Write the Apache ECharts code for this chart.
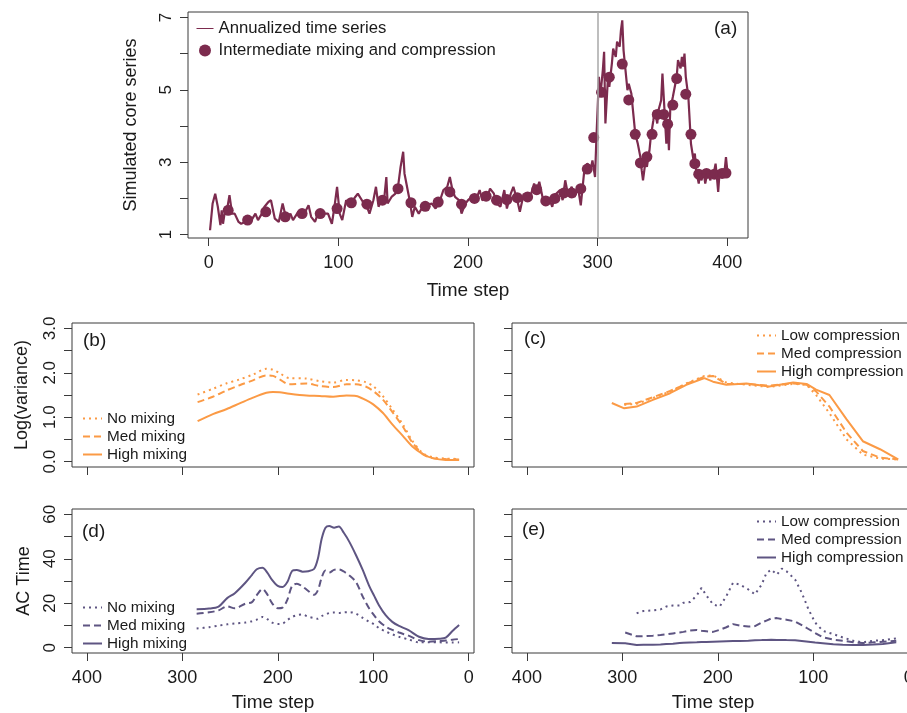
<!DOCTYPE html>
<html>
<head>
<meta charset="utf-8">
<script src="https://cdn.jsdelivr.net/npm/echarts@6/dist/echarts.min.js"></script>
<style>
html, body { margin: 0; padding: 0; background: #fff; }
#main { width: 907px; height: 713px; }
</style>
</head>
<body>
<div id="main"></div>
<script>
// panel (a): annualized series and the intermediate mixing/compression points
var annTime = [1,3,5,7,9,10,11,13,14,16,18,20,23,25,28,30,33,36,38,41,43,46,48,51,54,57,60,63,65,69,73,77,79,82,85,88,92,95,97,99,
  101,103,106,109,113,115,119,122,124,127,129,131,133,135,137,138,141,144,146,148,150,151,154,155,157,159,162,165,168,172,175,178,181,184,186,188,190,193,195,198,
  200,203,206,209,211,215,217,220,222,225,228,230,233,235,238,240,243,246,248,251,253,255,258,260,263,265,267,271,273,275,277,280,282,285,287,290,292,295,296,298,
  299,301,302,304,305,306,308,309,311,312,314,315,317,318,319,320,322,323,324,326,327,328,329,331,333,334,335,337,338,340,341,343,344,346,347,349,350,351,353,354,
  355,356,358,359,361,362,364,365,366,367,368,370,371,372,374,375,376,378,379,380,382,383,384,385,387,388,389,391,392,393,394,396,398,399,400];
var annValue = [1.12,1.86,2.13,1.77,1.26,1.67,1.30,1.77,1.67,2.09,1.58,1.58,1.35,1.30,1.35,1.49,1.40,1.58,1.40,1.58,1.77,1.90,1.95,1.44,1.35,1.86,1.40,1.58,1.40,1.63,1.53,1.81,1.49,1.35,1.67,1.58,1.58,1.30,1.77,2.32,
  1.58,1.40,1.95,1.81,2.04,2.13,1.90,1.77,1.58,1.95,2.32,1.77,1.95,1.86,2.59,1.86,2.04,2.13,2.32,2.87,3.29,2.69,2.13,1.95,1.49,1.77,1.58,1.77,1.81,1.86,1.72,1.90,2.23,2.32,2.59,2.23,2.04,1.95,1.58,1.86,
  1.95,2.04,1.95,2.23,1.95,2.04,2.27,2.13,1.86,1.77,2.23,1.72,2.13,2.32,1.95,1.63,2.13,1.95,2.04,2.41,2.23,2.46,1.95,1.86,1.95,1.77,2.09,2.23,1.95,2.50,2.13,2.32,2.04,2.27,1.81,2.87,2.96,2.87,3.05,2.59,
  3.61,5.36,4.80,5.54,6.05,4.07,5.36,5.08,5.73,6.14,5.91,6.33,6.19,6.65,6.92,6.09,5.36,4.99,5.17,4.90,4.53,4.16,3.79,3.51,3.14,2.78,2.50,3.05,2.87,3.33,3.70,4.16,4.44,4.07,4.44,4.71,5.45,4.80,3.51,4.16,
  3.33,4.44,4.80,4.99,5.36,5.82,5.59,5.91,5.64,6.00,5.36,4.80,4.16,3.51,3.05,3.24,2.78,2.41,2.69,2.50,2.69,2.41,2.59,2.69,2.50,2.78,2.59,2.96,2.59,2.18,2.69,2.59,2.78,3.14,2.78];
var dotTime = [15,30,44,59,72,86,99,110,122,134,146,156,167,177,186,195,205,214,222,230,238,246,253,260,267,274,280,287,292,297,
  303,309,319,324,329,333,338,342,346,351,354,358,361,368,372,375,378,384,390,396,399];
var dotValue = [1.67,1.40,1.63,1.49,1.58,1.58,1.72,1.88,1.84,1.95,2.27,1.88,1.78,1.90,2.18,1.84,2.00,2.06,1.95,1.97,2.02,2.04,2.24,1.93,2.00,2.15,2.15,2.27,2.81,3.68,
  4.93,5.35,5.71,4.72,3.77,2.98,3.15,3.77,4.32,4.32,4.05,4.58,5.31,4.88,3.77,2.96,2.67,2.69,2.67,2.69,2.70];

// panel (b): log(variance) by mixing
var bTime = [284,268,254,240,226,212,205,198,188,170,156,142,128,118,108,100,90,80,69,59,48,38,24,10];
var bNoMix = [1.51,1.64,1.76,1.85,1.96,2.09,2.07,1.99,1.88,1.87,1.81,1.78,1.84,1.83,1.79,1.70,1.48,1.18,0.84,0.47,0.19,0.10,0.07,0.06];
var bMedMix = [1.34,1.46,1.60,1.72,1.83,1.94,1.93,1.85,1.74,1.76,1.70,1.68,1.74,1.74,1.69,1.59,1.40,1.12,0.79,0.43,0.17,0.08,0.06,0.05];
var bHighMix = [0.91,1.07,1.18,1.31,1.44,1.55,1.57,1.56,1.53,1.49,1.48,1.46,1.49,1.48,1.39,1.29,1.10,0.84,0.58,0.34,0.17,0.08,0.04,0.04];

// panel (c): log(variance) by compression
var cTime = [311,298,285,268,250,233,214,205,191,170,146,121,107,97,83,65,48,30,11];
var cLowComp = [null,1.28,1.30,1.43,1.58,1.76,1.93,1.94,1.78,1.73,1.68,1.75,1.73,1.50,1.09,0.50,0.16,0.07,0.05];
var cMedComp = [null,1.30,1.32,1.45,1.59,1.75,1.91,1.93,1.75,1.75,1.71,1.76,1.73,1.58,1.24,0.65,0.24,0.09,0.05];
var cHighComp = [1.32,1.20,1.24,1.39,1.54,1.73,1.88,1.80,1.73,1.76,1.69,1.78,1.75,1.62,1.50,0.95,0.46,0.28,0.05];

// panel (d): AC time by mixing
var dTime = [285,272,262,253,245,234,227,222,216,211,206,200,195,190,185,180,174,168,162,158,154,150,146,141,136,131,125,118,111,104,99,94,87,80,73,63,52,42,31,24,17,10];
var dNoMix = [8.6,9.2,9.9,10.5,10.9,11.3,11.9,12.6,13.8,12.8,11.3,10.6,10.8,12.4,13.8,14.6,14.9,13.9,13.3,13.0,14.2,14.9,15.6,15.8,15.6,15.9,16.0,15.3,13.4,11.6,10.5,8.8,7.3,6.0,4.9,3.7,2.4,2.4,2.4,2.3,2.3,2.4];
var dMedMix = [15.3,15.9,16.8,18.6,17.7,19.8,20.5,23.6,26.4,24.0,20.0,17.7,18.0,21.5,27.8,28.8,27.5,25.5,23.8,25.8,31.5,34.7,33.8,35.0,35.2,34.3,32.5,29.5,23.0,17.5,14.5,11.9,9.5,8.0,6.8,5.4,3.4,2.7,3.0,3.2,3.6,3.9];
var dHighMix = [17.3,17.6,18.5,22.3,24.5,29.2,32.8,35.3,36.0,33.8,30.5,27.8,27.3,29.5,34.5,35.0,34.2,34.4,35.4,40.0,49.0,54.0,54.8,54.0,54.5,51.8,47.6,41.6,35.0,27.6,23.3,19.1,14.6,11.6,9.8,7.9,4.9,3.9,4.0,4.5,7.5,10.2];

// panel (e): AC time by compression
var eTime = [311,297,285,278,268,260,254,247,240,236,229,222,217,212,205,198,191,184,177,168,161,154,149,144,138,133,128,119,112,105,98,90,79,69,58,48,37,27,13];
var eLowComp = [null,null,15.5,16.5,16.8,17.2,18.5,19.0,19.0,20.2,20.5,23.5,26.9,23.5,19.5,18.5,23.2,29.2,28.4,26.2,24.0,28.4,33.6,35.1,32.9,35.6,34.4,30.7,24.7,17.3,11.3,7.6,6.1,4.6,3.1,2.4,3.1,3.4,4.2];
var eMedComp = [null,6.8,5.1,5.2,5.4,5.7,6.0,6.4,6.8,7.1,7.7,8.0,7.6,7.4,7.1,8.0,9.2,10.6,9.9,9.5,9.7,11.3,12.2,13.1,13.3,12.9,12.6,11.8,10.1,8.4,6.6,4.7,3.6,3.1,2.4,2.1,2.4,2.7,3.1];
var eHighComp = [2.1,2.0,1.2,1.3,1.3,1.4,1.6,1.8,2.1,2.2,2.3,2.4,2.5,2.6,2.7,2.8,2.9,3.0,3.0,3.1,3.3,3.4,3.5,3.6,3.5,3.5,3.4,3.3,3.0,2.7,2.3,2.0,1.5,1.3,1.2,1.2,1.4,1.7,2.4];

var timeTicks = [0, 100, 200, 300, 400];

var FONT = 'Liberation Sans';
var INK = '#1a1a1a';
var BOX = '#3a3a3a';
var MAROON = '#7c2b4e';
var ORANGE = '#fb9a45';
var PURPLE = '#5e5582';
var DOT = [2, 4];
var DASH = [7, 4];

function pairs(t, v) {
    var out = [];
    for (var i = 0; i < t.length; i++) {
        if (v[i] !== null) out.push([t[i], v[i]]);
    }
    return out;
}

function xAx(gi, min, max, inverse, showLabels, name, nameGap) {
    return {
        type: 'value', gridIndex: gi, min: min, max: max, inverse: inverse,
        axisLine: { show: false, onZero: false },
        axisTick: { show: true, length: 8, customValues: timeTicks, lineStyle: { color: BOX } },
        axisLabel: { show: showLabels, customValues: timeTicks, margin: 16, color: INK, fontSize: 18, fontFamily: FONT },
        splitLine: { show: false },
        name: name, nameLocation: 'middle', nameGap: nameGap,
        nameTextStyle: { fontSize: 19, color: INK, fontFamily: FONT }
    };
}

function yAx(gi, min, max, ticks, labels, fmt, name, nameGap) {
    return {
        type: 'value', gridIndex: gi, min: min, max: max,
        axisLine: { show: false, onZero: false },
        axisTick: { show: true, length: 8, customValues: ticks, lineStyle: { color: BOX } },
        axisLabel: { show: labels.length > 0, customValues: labels, rotate: 90, margin: 13, color: INK, fontSize: 17, fontFamily: FONT, formatter: fmt },
        splitLine: { show: false },
        name: name, nameLocation: 'middle', nameRotate: 90, nameGap: nameGap,
        nameTextStyle: { fontSize: 18, color: INK, fontFamily: FONT }
    };
}

function line(name, xi, t, v, color, dash, smooth) {
    return {
        name: name, type: 'line', xAxisIndex: xi, yAxisIndex: xi,
        data: pairs(t, v), symbol: 'none', smooth: smooth,
        lineStyle: { color: color, width: 2, type: dash },
        itemStyle: { color: color }
    };
}

function legend(left, top, names) {
    return {
        orient: 'vertical', left: left, top: top, padding: 0, itemGap: 3,
        itemWidth: 19, itemHeight: 14, selectedMode: false, data: names,
        itemStyle: { opacity: 0 },
        formatter: function (n) { return n.replace(/ \[.\]$/, ''); },
        textStyle: { fontSize: 15.3, color: INK, fontFamily: FONT }
    };
}

function grid(left, top, width, height) {
    return {
        left: left, top: top, width: width, height: height, outerBoundsMode: 'none',
        show: true, borderColor: BOX, borderWidth: 1, backgroundColor: 'transparent'
    };
}

var varTicks = [0, 0.5, 1, 1.5, 2, 2.5, 3];
var acTicks = [0, 10, 20, 30, 40, 50, 60];
var fmt1 = function (v) { return v.toFixed(1); };

var myChart = echarts.init(document.getElementById('main'));
myChart.setOption({
    animation: false,
    textStyle: { fontFamily: FONT },
    grid: [
        grid(188, 12, 560, 226),
        grid(72, 323, 402, 144),
        grid(512, 323, 402, 144),
        grid(72, 509, 402, 144),
        grid(512, 509, 402, 144)
    ],
    xAxis: [
        xAx(0, -16, 416, false, true, 'Time step', 43),
        xAx(1, -5.6, 415.6, true, false, '', 40),
        xAx(2, -5.6, 415.6, true, false, '', 40),
        xAx(3, -5.6, 415.6, true, true, 'Time step', 40),
        xAx(4, -5.6, 415.6, true, true, 'Time step', 40)
    ],
    yAxis: [
        yAx(0, 0.906, 7.15, [1, 2, 3, 4, 5, 6, 7], [1, 3, 5, 7], null, 'Simulated core series', 48),
        yAx(1, -0.12, 3.12, varTicks, [0, 1, 2, 3], fmt1, 'Log(variance)', 41),
        yAx(2, -0.12, 3.12, varTicks, [], fmt1, '', 40),
        yAx(3, -2.4, 62.4, acTicks, [0, 20, 40, 60], null, 'AC Time', 39),
        yAx(4, -2.4, 62.4, acTicks, [], null, '', 40)
    ],
    title: [
        { text: '(a)', left: 714, top: 19 },
        { text: '(b)', left: 83, top: 331 },
        { text: '(c)', left: 524, top: 329 },
        { text: '(d)', left: 82, top: 522 },
        { text: '(e)', left: 522, top: 520 }
    ].map(function (t) {
        t.padding = 0;
        t.textStyle = { fontSize: 19, fontWeight: 'normal', color: INK, fontFamily: FONT };
        return t;
    }),
    legend: [
        {
            orient: 'vertical', left: 196, top: 20, padding: 0, itemGap: 5,
            itemWidth: 17, itemHeight: 12, selectedMode: false,
            data: [
                { name: 'Annualized time series', lineStyle: { width: 1 }, itemStyle: { opacity: 0 } },
                { name: 'Intermediate mixing and compression', icon: 'circle' }
            ],
            textStyle: { fontSize: 16.7, color: INK, fontFamily: FONT }
        },
        legend(82, 411, ['No mixing [b]', 'Med mixing [b]', 'High mixing [b]']),
        legend(756, 328, ['Low compression [c]', 'Med compression [c]', 'High compression [c]']),
        legend(82, 600, ['No mixing [d]', 'Med mixing [d]', 'High mixing [d]']),
        legend(756, 514, ['Low compression [e]', 'Med compression [e]', 'High compression [e]'])
    ],
    series: [
        {
            name: 'Annualized time series', type: 'line', xAxisIndex: 0, yAxisIndex: 0,
            data: pairs(annTime, annValue), symbol: 'none',
            lineStyle: { color: MAROON, width: 2.2 }, itemStyle: { color: MAROON },
            markLine: {
                silent: true, symbol: ['none', 'none'], label: { show: false },
                lineStyle: { color: '#a9a9a9', type: 'solid', width: 1.5 },
                data: [{ xAxis: 300 }]
            }
        },
        {
            name: 'Intermediate mixing and compression', type: 'scatter', xAxisIndex: 0, yAxisIndex: 0,
            data: pairs(dotTime, dotValue), symbol: 'circle', symbolSize: 11,
            itemStyle: { color: MAROON, opacity: 1 }
        },
        line('No mixing [b]', 1, bTime, bNoMix, ORANGE, DOT, 0.3),
        line('Med mixing [b]', 1, bTime, bMedMix, ORANGE, DASH, 0.3),
        line('High mixing [b]', 1, bTime, bHighMix, ORANGE, 'solid', 0.3),
        line('Low compression [c]', 2, cTime, cLowComp, ORANGE, DOT, false),
        line('Med compression [c]', 2, cTime, cMedComp, ORANGE, DASH, false),
        line('High compression [c]', 2, cTime, cHighComp, ORANGE, 'solid', false),
        line('No mixing [d]', 3, dTime, dNoMix, PURPLE, DOT, 0.3),
        line('Med mixing [d]', 3, dTime, dMedMix, PURPLE, DASH, 0.3),
        line('High mixing [d]', 3, dTime, dHighMix, PURPLE, 'solid', 0.3),
        line('Low compression [e]', 4, eTime, eLowComp, PURPLE, DOT, false),
        line('Med compression [e]', 4, eTime, eMedComp, PURPLE, DASH, false),
        line('High compression [e]', 4, eTime, eHighComp, PURPLE, 'solid', false)
    ]
});
</script>
</body>
</html>
